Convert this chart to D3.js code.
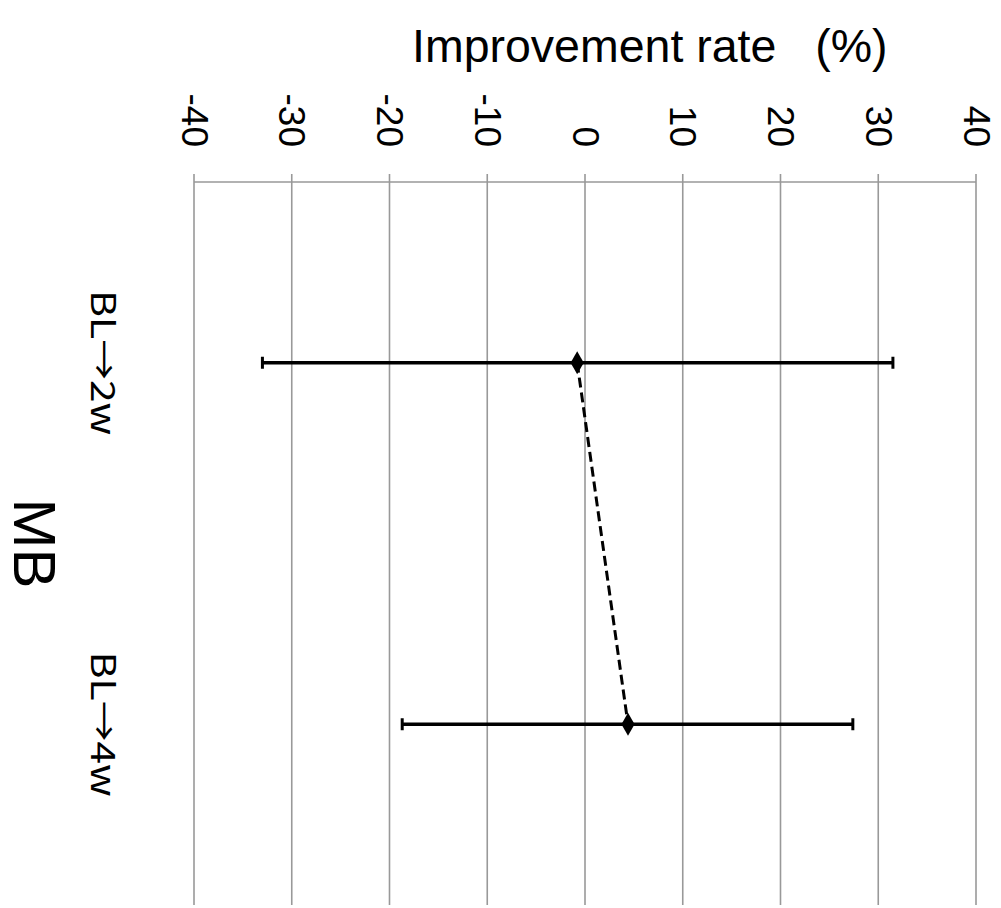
<!DOCTYPE html>
<html>
<head>
<meta charset="utf-8">
<script src="https://cdn.jsdelivr.net/npm/d3@7"></script>
<style>
  body { margin: 0; background: #fff; }
  text { font-family: "Liberation Sans", Arial, sans-serif; fill: #000; }
</style>
</head>
<body>
<div id="chart"></div>
<script>
// data
var categories = ["BL\u21922w", "BL\u21924w"];
var means = [-0.8, 4.4];
var errLow = [-33.0, -18.7];
var errHigh = [31.5, 27.4];
var ticks = [-40, -30, -20, -10, 0, 10, 20, 30, 40];
var groupLabel = "MB";
var axisTitle = "Improvement rate\u00a0\u00a0 (%)";

var width = 1001, height = 908;

var svg = d3.select("#chart").append("svg")
    .attr("width", width)
    .attr("height", height);

var x = d3.scaleLinear().domain([-40, 40]).range([194, 976]);
var y = d3.scaleBand().domain(categories).range([182, 905]);

var rows = categories.map(function(c, i) {
    return {cat: c, mean: means[i], lo: errLow[i], hi: errHigh[i]};
});

// gridlines
svg.append("g").selectAll("line").data(ticks).enter().append("line")
    .attr("x1", function(d) { return x(d); })
    .attr("x2", function(d) { return x(d); })
    .attr("y1", 174)
    .attr("y2", 905)
    .attr("stroke", "#999")
    .attr("stroke-width", 1.6);

// axis line
svg.append("line")
    .attr("x1", x(-40)).attr("x2", x(40))
    .attr("y1", 182).attr("y2", 182)
    .attr("stroke", "#999")
    .attr("stroke-width", 1.6);

// tick labels, rotated, ending just above the axis
svg.append("g").selectAll("text").data(ticks).enter().append("text")
    .attr("transform", function(d) { return "translate(" + x(d) + ",147) rotate(90)"; })
    .attr("text-anchor", "end")
    .attr("dominant-baseline", "central")
    .attr("font-size", "37px")
    .text(function(d) { return d; });

// title
svg.append("text")
    .attr("x", 412)
    .attr("y", 62)
    .attr("font-size", "46.5px")
    .text(axisTitle);

// category labels
svg.append("g").selectAll("text").data(rows).enter().append("text")
    .attr("transform", function(d) { return "translate(105," + (y(d.cat) + y.bandwidth() / 2) + ") rotate(90)"; })
    .attr("text-anchor", "middle")
    .attr("dominant-baseline", "central")
    .attr("font-size", "34px")
    .attr("textLength", 145)
    .attr("lengthAdjust", "spacingAndGlyphs")
    .style("font-family", "'Noto Sans CJK JP', 'Noto Sans', sans-serif")
    .text(function(d) { return d.cat; });

// group label
svg.append("text")
    .attr("transform", "translate(34," + (y.range()[0] + y.range()[1]) / 2 + ") rotate(90)")
    .attr("text-anchor", "middle")
    .attr("dominant-baseline", "central")
    .attr("font-size", "60px")
    .text(groupLabel);

var cy = function(d) { return y(d.cat) + y.bandwidth() / 2; };

// dashed connecting line
var line = d3.line()
    .x(function(d) { return x(d.mean); })
    .y(cy);

svg.append("path")
    .datum(rows)
    .attr("d", line)
    .attr("fill", "none")
    .attr("stroke", "#000")
    .attr("stroke-width", 3)
    .attr("stroke-dasharray", "10,5");

// error bars
var eb = svg.append("g").selectAll("g").data(rows).enter().append("g");
eb.append("line")
    .attr("x1", function(d) { return x(d.lo); })
    .attr("x2", function(d) { return x(d.hi); })
    .attr("y1", cy).attr("y2", cy)
    .attr("stroke", "#000").attr("stroke-width", 3.5);
eb.append("line")
    .attr("x1", function(d) { return x(d.lo); })
    .attr("x2", function(d) { return x(d.lo); })
    .attr("y1", function(d) { return cy(d) - 6; })
    .attr("y2", function(d) { return cy(d) + 6; })
    .attr("stroke", "#000").attr("stroke-width", 3);
eb.append("line")
    .attr("x1", function(d) { return x(d.hi); })
    .attr("x2", function(d) { return x(d.hi); })
    .attr("y1", function(d) { return cy(d) - 6; })
    .attr("y2", function(d) { return cy(d) + 6; })
    .attr("stroke", "#000").attr("stroke-width", 3);

// diamond markers
eb.append("path")
    .attr("d", d3.symbol().type(d3.symbolDiamond).size(150))
    .attr("transform", function(d) { return "translate(" + x(d.mean) + "," + cy(d) + ")"; })
    .attr("fill", "#000");
</script>
</body>
</html>
